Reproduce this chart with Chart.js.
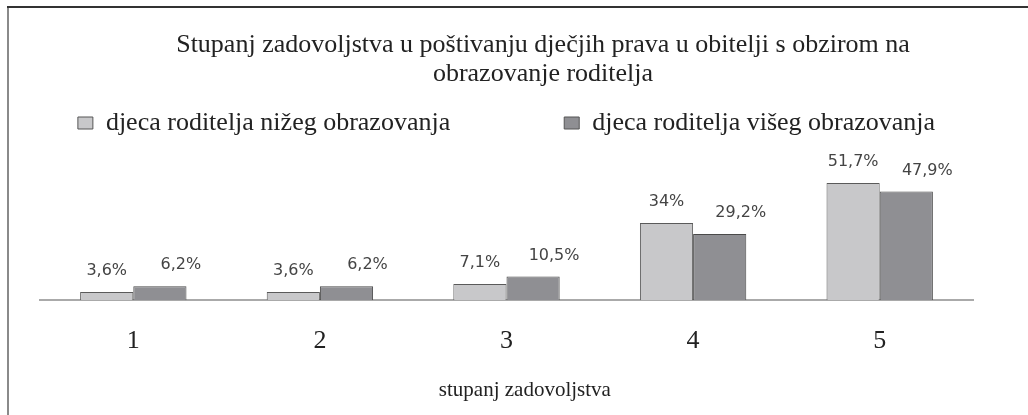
<!DOCTYPE html>
<html>
<head>
<meta charset="utf-8">
<script src="https://cdn.jsdelivr.net/npm/chart.js@4.4.0/dist/chart.umd.min.js"></script>
<style>
  html, body { margin: 0; padding: 0; background: #fff; }
  #wrap { width: 1028px; height: 415px; position: relative; }
</style>
</head>
<body>
<div id="wrap"><canvas id="c" width="1028" height="415"></canvas></div>
<script>
const categories = ['1', '2', '3', '4', '5'];
const lowerEdu = [3.6, 3.6, 7.1, 34, 51.7];
const higherEdu = [6.2, 6.2, 10.5, 29.2, 47.9];
const lowerLabels = ['3,6%', '3,6%', '7,1%', '34%', '51,7%'];
const higherLabels = ['6,2%', '6,2%', '10,5%', '29,2%', '47,9%'];
const seriesNames = ['djeca roditelja nižeg obrazovanja', 'djeca roditelja višeg obrazovanja'];
const titleLines = ['Stupanj zadovoljstva u poštivanju dječjih prava u obitelji s obzirom na', 'obrazovanje roditelja'];
const axisTitle = 'stupanj zadovoljstva';

const SERIF = '"Liberation Serif", "DejaVu Serif", serif';

const framePlugin = {
  id: 'frame',
  beforeDraw(chart) {
    const ctx = chart.ctx;
    ctx.save();
    ctx.fillStyle = '#fff';
    ctx.fillRect(0, 0, chart.width, chart.height);
    ctx.lineWidth = 2;
    ctx.strokeStyle = '#8a8a8a';
    ctx.beginPath();
    ctx.moveTo(8, 6);
    ctx.lineTo(8, chart.height);
    ctx.stroke();
    ctx.strokeStyle = '#333';
    ctx.beginPath();
    ctx.moveTo(7, 7);
    ctx.lineTo(chart.width, 7);
    ctx.stroke();
    ctx.restore();
  }
};

const titlePlugin = {
  id: 'customTitle',
  afterDraw(chart) {
    const ctx = chart.ctx;
    ctx.save();
    ctx.font = '26px ' + SERIF;
    ctx.fillStyle = '#222';
    ctx.textAlign = 'center';
    ctx.textBaseline = 'middle';
    ctx.fillText(titleLines[0], 543, 45);
    ctx.fillText(titleLines[1], 543, 74);
    ctx.restore();
  }
};

const valueLabelPlugin = {
  id: 'valueLabels',
  afterDatasetsDraw(chart) {
    const ctx = chart.ctx;
    const texts = [lowerLabels, higherLabels];
    const xOff = [0, 21];
    ctx.save();
    ctx.font = '16px "DejaVu Sans", sans-serif';
    ctx.fillStyle = '#444';
    ctx.textAlign = 'center';
    ctx.textBaseline = 'middle';
    chart.data.datasets.forEach((ds, di) => {
      const meta = chart.getDatasetMeta(di);
      meta.data.forEach((bar, i) => {
        ctx.fillText(texts[di][i], bar.x + xOff[di], bar.y - 21);
      });
    });
    ctx.restore();
  }
};

const legendGap = ' '.repeat(16);
const axisTitleShift = '\u00A0'.repeat(7);

new Chart(document.getElementById('c'), {
  type: 'bar',
  data: {
    labels: categories,
    datasets: [
      {
        label: seriesNames[0],
        data: lowerEdu,
        backgroundColor: '#c8c8ca',
        borderColor: '#5a5a5a',
        borderWidth: 1,
        barPercentage: 1.0,
        categoryPercentage: 0.57
      },
      {
        label: seriesNames[1],
        data: higherEdu,
        backgroundColor: '#8f8f93',
        borderColor: '#4a4a4a',
        borderWidth: 1,
        barPercentage: 1.0,
        categoryPercentage: 0.57
      }
    ]
  },
  options: {
    responsive: false,
    animation: false,
    devicePixelRatio: 1,
    layout: { padding: { left: 0, right: 15, top: 100, bottom: 10 } },
    plugins: {
      title: { display: false },
      tooltip: { enabled: false },
      legend: {
        display: true,
        position: 'top',
        labels: {
          boxWidth: 15,
          boxHeight: 12,
          padding: 10,
          color: '#222',
          font: { family: SERIF, size: 26 },
          generateLabels(chart) {
            const items = Chart.defaults.plugins.legend.labels.generateLabels(chart);
            items.forEach((it, i) => {
              it.lineWidth = 1;
              it.strokeStyle = '#555';
              if (i === 0) it.text = it.text + legendGap;
            });
            return items;
          }
        }
      }
    },
    scales: {
      x: {
        grid: { display: false, drawTicks: false },
        border: { display: true, color: '#aaa', width: 2 },
        ticks: { color: '#222', font: { family: SERIF, size: 26, lineHeight: 0.8 }, padding: 31 },
        title: { display: true, text: axisTitleShift + axisTitle, color: '#222', font: { family: SERIF, size: 21, lineHeight: 1 }, padding: { top: -3, bottom: 4 } }
      },
      y: {
        display: true,
        position: 'left',
        min: 0,
        max: 68,
        ticks: { display: false },
        grid: { display: false, drawTicks: false },
        border: { display: false },
        afterFit(s) { s.width = 40; }
      },
      yRight: {
        type: 'linear',
        display: true,
        position: 'right',
        min: 0,
        max: 68,
        ticks: { display: false },
        grid: { display: false, drawTicks: false },
        border: { display: false },
        afterFit(s) { s.width = 40; }
      }
    }
  },
  plugins: [framePlugin, titlePlugin, valueLabelPlugin]
});
</script>
</body>
</html>
